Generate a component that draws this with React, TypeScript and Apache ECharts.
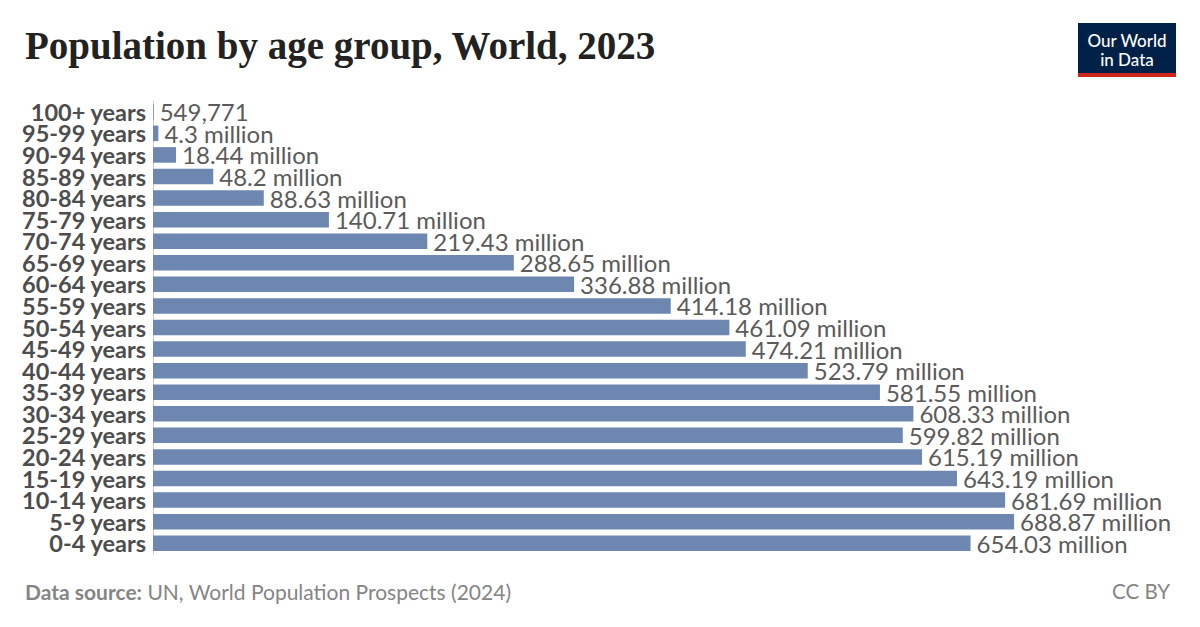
import React, { useEffect, useRef } from "react";
import * as echarts from "echarts";

const categories = [
  "100+ years", "95-99 years", "90-94 years", "85-89 years", "80-84 years",
  "75-79 years", "70-74 years", "65-69 years", "60-64 years", "55-59 years",
  "50-54 years", "45-49 years", "40-44 years", "35-39 years", "30-34 years",
  "25-29 years", "20-24 years", "15-19 years", "10-14 years", "5-9 years", "0-4 years",
];
// population in millions
const populationMillions = [
  0.549771, 4.3, 18.44, 48.2, 88.63,
  140.71, 219.43, 288.65, 336.88, 414.18,
  461.09, 474.21, 523.79, 581.55, 608.33,
  599.82, 615.19, 643.19, 681.69, 688.87, 654.03,
];

const title = "Population by age group, World, 2023";
const sourceLabel = "Data source:";
const sourceText = " UN, World Population Prospects (2024)";
const license = "CC BY";

function formatValue(v: number): string {
  if (v < 1) return Math.round(v * 1e6).toLocaleString("en-US");
  return `${v} million`;
}

export default function App() {
  const ref = useRef<HTMLDivElement>(null);
  useEffect(() => {
    if (!ref.current) return;
    const chart = echarts.init(ref.current, null, { renderer: "svg" });
    chart.setOption({
      animation: false,
      backgroundColor: "#ffffff",
      textStyle: { fontFamily: "Lato" },
      grid: { left: 153, right: 47, top: 101, height: 453, containLabel: false },
      xAxis: {
        type: "value",
        min: 0,
        max: 800,
        show: false,
      },
      yAxis: {
        type: "category",
        data: categories,
        inverse: true,
        axisLine: { show: true, lineStyle: { color: "#cccccc", width: 1 } },
        axisTick: { show: false },
        axisLabel: {
          interval: 0,
          margin: 7,
          fontFamily: "Lato",
          fontWeight: "bold",
          fontSize: 23.5,
          lineHeight: 20,
          color: "#4d4d4d",
        },
      },
      series: [
        {
          type: "bar",
          data: populationMillions,
          barCategoryGap: "28%",
          itemStyle: { color: "#6d87b0" },
          label: {
            show: true,
            position: "right",
            distance: 6,
            fontFamily: "Lato",
            fontSize: 24,
            lineHeight: 20,
            color: "#5b5b5b",
            formatter: (p: any) => formatValue(p.value),
          },
        },
      ],
      graphic: [
        {
          type: "text",
          x: 25,
          y: 45,
          style: {
            text: title,
            fontFamily: "Liberation Serif",
            fontWeight: "bold",
            fontSize: 39,
            fill: "#222222",
            verticalAlign: "middle",
          },
        },
        {
          type: "rect",
          shape: { x: 1078, y: 23, width: 98, height: 50 },
          style: { fill: "#002147" },
        },
        {
          type: "rect",
          shape: { x: 1078, y: 73, width: 98, height: 4 },
          style: { fill: "#ce261e" },
        },
        {
          type: "text",
          x: 1127,
          y: 40,
          style: {
            text: "Our World",
            fontFamily: "Lato",
            fontWeight: 500,
            fontSize: 17,
            fill: "#ffffff",
            align: "center",
            verticalAlign: "middle",
          },
        },
        {
          type: "text",
          x: 1127,
          y: 59,
          style: {
            text: "in Data",
            fontFamily: "Lato",
            fontWeight: 500,
            fontSize: 17,
            fill: "#ffffff",
            align: "center",
            verticalAlign: "middle",
          },
        },
        {
          type: "text",
          x: 25,
          y: 591,
          style: {
            text: `{b|${sourceLabel}}{r|${sourceText}}`,
            verticalAlign: "middle",
            rich: {
              b: { fontFamily: "Lato", fontWeight: "bold", fontSize: 21, fill: "#858585", color: "#858585" },
              r: { fontFamily: "Lato", fontSize: 21, fill: "#858585", color: "#858585" },
            },
          },
        },
        {
          type: "text",
          x: 1170,
          y: 591,
          style: {
            text: license,
            fontFamily: "Lato",
            fontSize: 20.5,
            fill: "#858585",
            align: "right",
            verticalAlign: "middle",
          },
        },
      ],
    });
    return () => chart.dispose();
  }, []);
  return (
    <div
      ref={ref}
      style={{ position: "fixed", left: 0, top: 0, width: 1200, height: 627, background: "#fff" }}
    />
  );
}
